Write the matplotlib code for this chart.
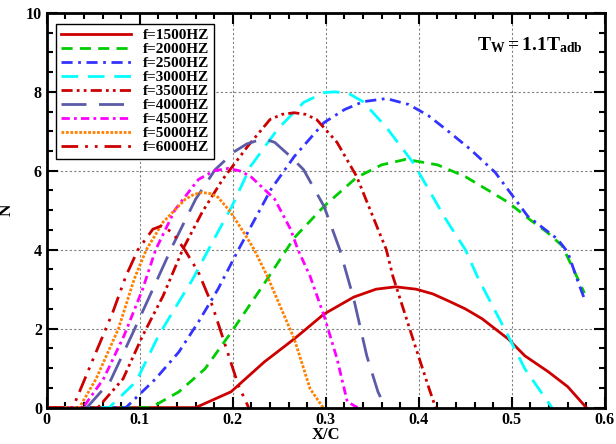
import numpy as np
import matplotlib
matplotlib.use('Agg')
import matplotlib.pyplot as plt
from matplotlib.ticker import MultipleLocator

plt.rcParams['font.family'] = ['Liberation Serif', 'DejaVu Serif']
plt.rcParams['font.weight'] = 'bold'
plt.rcParams['mathtext.fontset'] = 'custom'
plt.rcParams['mathtext.rm'] = 'Liberation Serif:bold'
plt.rcParams['mathtext.it'] = 'Liberation Serif:bold'
plt.rcParams['mathtext.bf'] = 'Liberation Serif:bold'

# N-factor curves along the chord for each disturbance frequency
x_1500 = [0.0, 0.16, 0.198, 0.234, 0.266, 0.298, 0.33, 0.354, 0.375, 0.397, 0.415, 0.432, 0.45, 0.468, 0.485, 0.496, 0.514, 0.539, 0.56, 0.58]
n_1500 = [0.0, 0.0, 0.4, 1.16, 1.74, 2.37, 2.8, 3.0, 3.06, 3.0, 2.88, 2.7, 2.5, 2.25, 1.94, 1.74, 1.31, 0.91, 0.53, 0.0]

x_2000 = [0.0, 0.112, 0.142, 0.17, 0.198, 0.213, 0.234, 0.266, 0.298, 0.333, 0.36, 0.386, 0.42, 0.45, 0.482, 0.496, 0.52, 0.538, 0.554, 0.567, 0.578]
n_2000 = [0.0, 0.0, 0.4, 0.98, 1.9, 2.42, 3.15, 4.3, 5.1, 5.83, 6.15, 6.29, 6.15, 5.85, 5.4, 5.2, 4.75, 4.44, 4.1, 3.46, 2.9]

x_2500 = [0.0, 0.085, 0.117, 0.142, 0.163, 0.184, 0.206, 0.241, 0.266, 0.298, 0.32, 0.34, 0.365, 0.389, 0.41, 0.429, 0.455, 0.482, 0.517, 0.549, 0.56, 0.57, 0.578]
n_2500 = [0.0, 0.0, 0.73, 1.41, 2.17, 3.0, 4.0, 5.53, 6.36, 7.22, 7.55, 7.75, 7.83, 7.68, 7.4, 7.05, 6.55, 5.96, 4.85, 4.27, 3.94, 3.26, 2.75]

x_3000 = [0.0, 0.067, 0.096, 0.12, 0.142, 0.157, 0.178, 0.199, 0.219, 0.248, 0.276, 0.298, 0.31, 0.325, 0.34, 0.365, 0.394, 0.429, 0.45, 0.464, 0.492, 0.514, 0.543]
n_3000 = [0.0, 0.0, 0.66, 1.82, 2.68, 3.26, 4.19, 5.1, 6.11, 7.05, 7.73, 7.98, 8.0, 7.95, 7.75, 7.1, 6.2, 4.77, 4.0, 3.26, 2.0, 0.98, 0.0]

x_3500 = [0.0, 0.055, 0.082, 0.103, 0.125, 0.146, 0.167, 0.189, 0.216, 0.24, 0.253, 0.266, 0.278, 0.29, 0.312, 0.333, 0.365, 0.372, 0.397, 0.411, 0.418]
n_3500 = [0.0, 0.0, 0.73, 1.82, 2.83, 4.0, 4.95, 5.78, 6.62, 7.3, 7.43, 7.47, 7.43, 7.3, 6.72, 5.86, 4.0, 3.33, 1.49, 0.48, 0.0]

x_4000 = [0.0, 0.043, 0.068, 0.093, 0.114, 0.135, 0.16, 0.181, 0.202, 0.215, 0.227, 0.237, 0.245, 0.262, 0.276, 0.298, 0.315, 0.33, 0.344, 0.356, 0.364]
n_4000 = [0.0, 0.0, 0.66, 1.92, 3.0, 4.09, 5.28, 6.03, 6.49, 6.68, 6.77, 6.78, 6.72, 6.36, 6.03, 5.1, 4.0, 2.75, 1.31, 0.4, 0.0]

x_4500 = [0.0, 0.039, 0.061, 0.083, 0.103, 0.117, 0.138, 0.163, 0.18, 0.195, 0.207, 0.219, 0.245, 0.262, 0.27, 0.283, 0.298, 0.312, 0.323, 0.334]
n_4500 = [0.0, 0.0, 0.73, 1.82, 3.0, 4.0, 5.02, 5.78, 6.0, 6.06, 6.0, 5.86, 5.28, 4.52, 4.0, 3.33, 2.33, 1.24, 0.15, 0.0]

x_5000 = [0.0, 0.035, 0.053, 0.077, 0.094, 0.107, 0.125, 0.149, 0.158, 0.167, 0.176, 0.184, 0.197, 0.213, 0.223, 0.237, 0.266, 0.283, 0.297]
n_5000 = [0.0, 0.0, 0.73, 2.0, 3.26, 4.0, 4.7, 5.28, 5.4, 5.45, 5.42, 5.33, 4.97, 4.39, 4.0, 3.33, 1.74, 0.48, 0.0]

x_6000 = [0.0, 0.028, 0.053, 0.071, 0.085, 0.098, 0.114, 0.123, 0.135, 0.149, 0.163, 0.178, 0.192, 0.206, 0.217]
n_6000 = [0.0, 0.0, 1.41, 2.42, 3.33, 4.0, 4.52, 4.6, 4.44, 3.97, 3.43, 2.58, 1.57, 0.56, 0.0]

series = [
    (x_1500, n_1500, 'f=1500HZ', '#cc0000', '-'),
    (x_2000, n_2000, 'f=2000HZ', '#00cc00', (0, (4, 2.6))),
    (x_2500, n_2500, 'f=2500HZ', '#3333ff', (0, (4, 2, 1, 2))),
    (x_3000, n_3000, 'f=3000HZ', '#00ffff', (0, (6, 3.5))),
    (x_3500, n_3500, 'f=3500HZ', '#cc0000', (0, (4, 1.5, 1, 1.5, 1, 1.5))),
    (x_4000, n_4000, 'f=4000HZ', '#5b5ba8', (0, (9, 4.5))),
    (x_4500, n_4500, 'f=4500HZ', '#ff00ff', (0, (3, 1.5, 1, 1.5))),
    (x_5000, n_5000, 'f=5000HZ', '#ff8000', (0, (1, 0.6))),
    (x_6000, n_6000, 'f=6000HZ', '#cc0000', (0, (6, 2.5, 1, 2.5, 1, 2.5))),
]

fig = plt.figure(figsize=(6.16, 4.44), dpi=100)
ax = fig.add_axes([0.076, 0.082, 0.906, 0.889])

for x, n, lab, col, ls in series:
    ax.plot(x, n, color=col, linestyle=ls, linewidth=2, label=lab)

ax.set_xlim(0, 0.6)
ax.set_ylim(0, 10)
ax.xaxis.set_major_locator(MultipleLocator(0.1))
ax.xaxis.set_minor_locator(MultipleLocator(0.02))
ax.yaxis.set_major_locator(MultipleLocator(2))
ax.yaxis.set_minor_locator(MultipleLocator(0.5))
ax.xaxis.set_major_formatter(plt.FuncFormatter(lambda v, p: '0' if abs(v) < 1e-9 else '%g' % v))

ax.tick_params(which='both', direction='in', top=True, right=True, width=1.5, labelsize=11.5)
ax.tick_params(which='major', length=8)
ax.tick_params(which='minor', length=4)
for s in ax.spines.values():
    s.set_linewidth(2)

ax.grid(True, which='major', color='#808080', linestyle=(0, (2, 2)), linewidth=0.8)

ax.set_xlabel('X/C', fontsize=12, fontweight='bold', labelpad=-1)
ax.set_ylabel('N', fontsize=12.5, fontweight='bold', labelpad=8)

ax.text(0.96, 0.906, r'$\mathrm{T_W = 1.1T_{adb}}$', transform=ax.transAxes,
        ha='right', va='baseline', fontsize=14)

leg = ax.legend(loc='upper left', bbox_to_anchor=(0.017, 0.972), fontsize=11,
                handlelength=4.6, labelspacing=0.02, borderpad=0.3,
                handletextpad=0.8, fancybox=False, framealpha=1,
                edgecolor='black', borderaxespad=0)
leg.get_frame().set_linewidth(1)

fig.savefig('out.png', dpi=100)
